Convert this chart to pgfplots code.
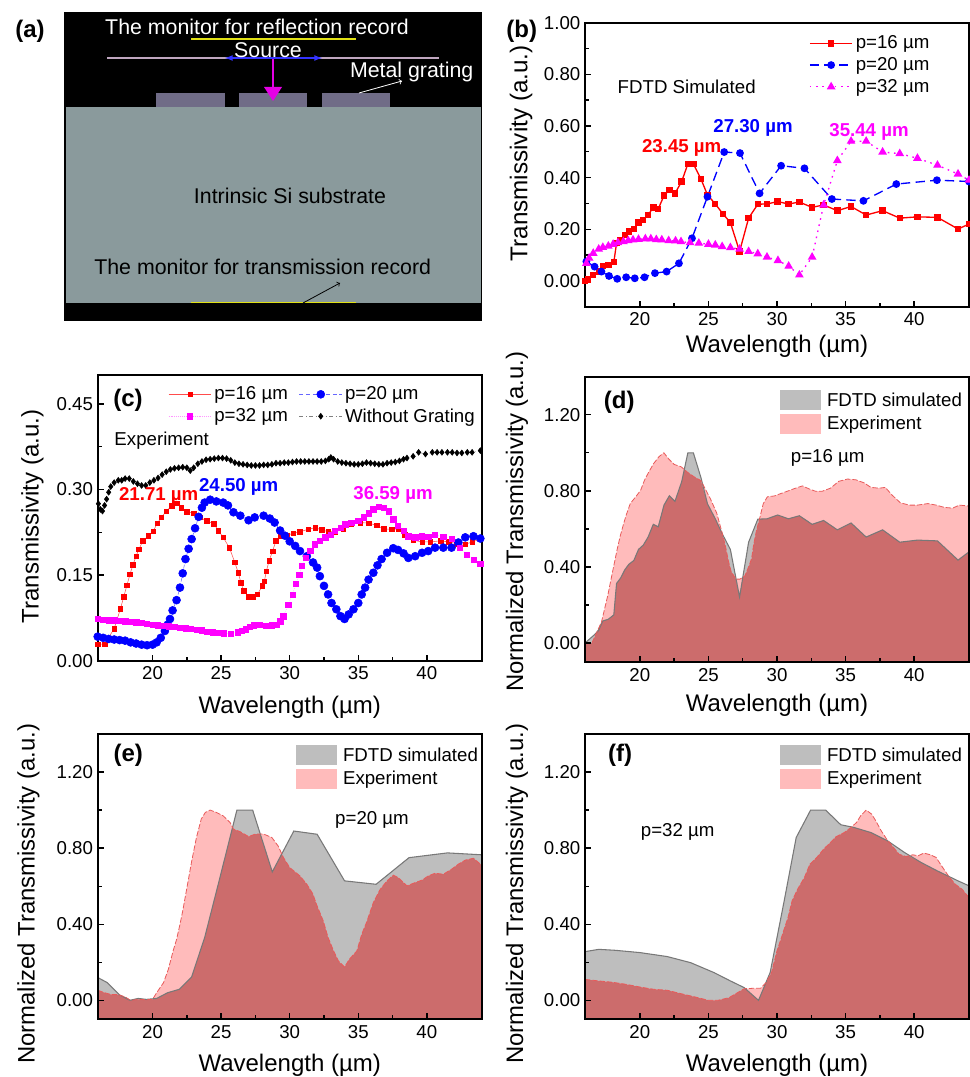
\documentclass[border=0pt]{standalone}
\usepackage{fontspec}
\setmainfont{Liberation Sans}
\usepackage{pgfplots}
\usepackage{pgfplotstable}
\pgfplotsset{compat=1.18}
\newcommand\fs[1]{\fontsize{#1}{#1}\selectfont}
\definecolor{gfill}{RGB}{190,190,190}
\definecolor{pfill}{RGB}{255,187,187}
\definecolor{ofill}{RGB}{204,108,108}
\definecolor{gline}{RGB}{120,120,120}
\definecolor{rline}{RGB}{232,90,90}
\definecolor{subst}{RGB}{138,154,156}
\definecolor{grat}{RGB}{112,108,135}
\definecolor{yel}{RGB}{225,225,20}
\definecolor{mag}{RGB}{255,0,255}
\definecolor{maglight}{RGB}{255,150,255}
\definecolor{red}{RGB}{255,0,0}
\definecolor{blue}{RGB}{0,0,255}

% ---------- panel (b)
\pgfplotstableread[row sep=\\]{x y\\ 16 0.0\\ 16.2 .006\\ 16.6 .023\\ 17 .036\\ 17.3 .058\\ 17.7 .062\\ 18.1 .072\\ 18.3 .146\\ 18.6 .159\\ 18.9 .178\\ 19.2 .191\\ 19.56 .2\\ 19.9 .226\\ 20.25 .236\\ 20.6 .255\\ 20.98 .285\\ 21.34 .279\\ 21.76 .33\\ 22.15 .352\\ 22.56 .339\\ 23.05 .385\\ 23.5 .453\\ 23.9 .453\\ 24.46 .394\\ 24.93 .333\\ 25.5 .298\\ 26.05 .26\\ 26.6 .226\\ 27.27 .114\\ 27.93 .243\\ 28.6 .297\\ 29.27 .298\\ 30.05 .307\\ 30.83 .298\\ 31.63 .305\\ 32.56 .285\\ 33.4 .294\\ 34.4 .272\\ 35.4 .288\\ 36.5 .255\\ 37.7 .272\\ 38.95 .243\\ 40.24 .248\\ 41.7 .246\\ 43.2 .201\\ 44 .22\\}\bA
\pgfplotstableread[row sep=\\]{x y\\ 16.1 .075\\ 16.7 .055\\ 17.2 .036\\ 17.75 .019\\ 18.35 .008\\ 19 .014\\ 19.63 .01\\ 20.34 .014\\ 21.1 .03\\ 21.95 .036\\ 22.85 .068\\ 23.8 .165\\ 24.93 .326\\ 26.15 .499\\ 27.3 .495\\ 28.73 .339\\ 30.3 .446\\ 32 .436\\ 34 .317\\ 36.3 .31\\ 38.7 .375\\ 41.66 .39\\ 44 .385\\}\bB
\pgfplotstableread[row sep=\\]{x y\\ 16.1 .068\\ 16.3 .088\\ 16.6 .107\\ 17 .123\\ 17.3 .13\\ 17.7 .135\\ 18.05 .142\\ 18.4 .148\\ 18.8 .152\\ 19.15 .156\\ 19.5 .159\\ 19.9 .161\\ 20.4 .163\\ 20.8 .163\\ 21.2 .16\\ 21.6 .159\\ 22.1 .156\\ 22.6 .155\\ 23 .152\\ 23.66 .148\\ 24.3 .146\\ 25 .142\\ 25.5 .139\\ 26 .133\\ 26.6 .129\\ 27.27 .123\\ 27.93 .114\\ 28.6 .105\\ 29.27 .092\\ 30.07 .079\\ 30.85 .057\\ 31.63 .023\\ 32.56 .092\\ 33.4 .294\\ 34.4 .466\\ 35.4 .541\\ 36.5 .541\\ 37.7 .499\\ 38.95 .493\\ 40.24 .475\\ 41.7 .448\\ 43.2 .414\\ 44 .39\\}\bC

% ---------- panel (c)
\pgfplotstableread[row sep=\\]{x y\\ 16 .029\\ 16.5 .029\\ 17.2 .056\\ 17.66 .091\\ 17.9 .112\\ 18.13 .132\\ 18.35 .151\\ 18.57 .168\\ 18.8 .183\\ 19 .195\\ 19.3 .21\\ 19.7 .219\\ 20.05 .227\\ 20.35 .241\\ 20.65 .251\\ 21 .262\\ 21.4 .271\\ 21.75 .276\\ 22.1 .268\\ 22.5 .261\\ 23 .258\\ 23.45 .251\\ 23.95 .245\\ 24.45 .24\\ 24.8 .228\\ 25.15 .216\\ 25.6 .198\\ 26 .172\\ 26.25 .154\\ 26.45 .136\\ 26.65 .122\\ 27 .112\\ 27.3 .112\\ 27.65 .116\\ 28 .131\\ 28.15 .139\\ 28.3 .157\\ 28.5 .175\\ 28.75 .192\\ 29 .21\\ 29.3 .219\\ 29.8 .22\\ 30.25 .223\\ 30.75 .226\\ 31.35 .23\\ 31.85 .233\\ 32.35 .229\\ 32.8 .226\\ 33.3 .226\\ 33.9 .23\\ 34.5 .239\\ 35.15 .242\\ 35.75 .241\\ 36.35 .237\\ 36.85 .231\\ 37.45 .23\\ 37.9 .231\\ 38.4 .221\\ 39 .211\\ 39.65 .208\\ 40.25 .208\\ 41 .21\\ 41.6 .208\\ 42.2 .205\\ 42.8 .204\\ 43.3 .208\\ 43.9 .213\\}\cA
\pgfplotstableread[row sep=\\]{x y\\ 16 .042\\ 16.4 .04\\ 16.8 .038\\ 17.2 .037\\ 17.6 .036\\ 18 .035\\ 18.4 .032\\ 18.8 .03\\ 19.2 .028\\ 19.6 .027\\ 20 .028\\ 20.3 .032\\ 20.6 .04\\ 20.9 .052\\ 21.1 .063\\ 21.27 .073\\ 21.46 .088\\ 21.75 .106\\ 22 .128\\ 22.2 .153\\ 22.4 .178\\ 22.63 .196\\ 22.85 .213\\ 23.1 .232\\ 23.36 .252\\ 23.6 .268\\ 23.8 .277\\ 24.2 .282\\ 24.65 .279\\ 25.15 .277\\ 25.5 .272\\ 25.9 .26\\ 26.4 .254\\ 27 .246\\ 27.45 .251\\ 28.1 .254\\ 28.55 .249\\ 28.9 .242\\ 29.3 .228\\ 29.65 .219\\ 30 .209\\ 30.4 .201\\ 30.75 .192\\ 31.25 .183\\ 31.7 .172\\ 32 .163\\ 32.2 .148\\ 32.5 .131\\ 32.8 .116\\ 33.05 .101\\ 33.4 .09\\ 33.7 .078\\ 34 .073\\ 34.3 .081\\ 34.65 .09\\ 35 .101\\ 35.25 .116\\ 35.5 .128\\ 35.75 .142\\ 36.1 .154\\ 36.4 .167\\ 36.7 .178\\ 37.1 .189\\ 37.55 .197\\ 37.9 .194\\ 38.3 .188\\ 38.65 .18\\ 39.15 .183\\ 39.65 .189\\ 40.1 .192\\ 40.6 .198\\ 41.2 .198\\ 41.8 .198\\ 42.3 .207\\ 42.8 .216\\ 43.4 .218\\ 43.9 .214\\}\cB
\pgfplotstableread[row sep=\\]{x y\\ 16 .073\\ 16.4 .072\\ 16.8 .071\\ 17.2 .071\\ 17.6 .07\\ 18 .069\\ 18.4 .068\\ 18.8 .067\\ 19.2 .066\\ 19.6 .065\\ 20 .063\\ 20.4 .062\\ 20.8 .061\\ 21.2 .06\\ 21.6 .059\\ 22 .058\\ 22.4 .057\\ 22.8 .056\\ 23.2 .054\\ 23.6 .053\\ 24 .051\\ 24.4 .05\\ 24.8 .049\\ 25.2 .048\\ 25.7 .047\\ 26.2 .05\\ 26.5 .052\\ 26.8 .055\\ 27.1 .059\\ 27.4 .062\\ 27.8 .063\\ 28.3 .061\\ 28.7 .062\\ 29.05 .063\\ 29.3 .069\\ 29.54 .078\\ 29.9 .098\\ 30.2 .116\\ 30.45 .135\\ 30.7 .151\\ 30.9 .166\\ 31.15 .18\\ 31.5 .192\\ 31.85 .204\\ 32.2 .21\\ 32.6 .216\\ 33 .221\\ 33.3 .227\\ 33.7 .233\\ 34.05 .239\\ 34.5 .242\\ 35 .245\\ 35.4 .251\\ 35.75 .258\\ 36.1 .265\\ 36.5 .27\\ 36.85 .268\\ 37.2 .262\\ 37.55 .248\\ 37.9 .236\\ 38.3 .227\\ 38.65 .218\\ 39.15 .216\\ 39.65 .218\\ 40.1 .217\\ 40.6 .22\\ 41.2 .217\\ 41.8 .213\\ 42.4 .198\\ 42.9 .186\\ 43.4 .177\\ 43.9 .17\\}\cC
\pgfplotstableread[row sep=\\]{x y\\ 16.05 .275\\ 16.2 .265\\ 16.35 .262\\ 16.5 .272\\ 16.65 .283\\ 16.8 .295\\ 16.95 .305\\ 17.2 .312\\ 17.5 .316\\ 17.75 .316\\ 18 .319\\ 18.3 .319\\ 18.6 .314\\ 18.9 .31\\ 19.2 .307\\ 19.5 .307\\ 19.8 .312\\ 20.1 .316\\ 20.4 .32\\ 20.7 .326\\ 21 .331\\ 21.3 .335\\ 21.6 .337\\ 21.9 .338\\ 22.2 .339\\ 22.5 .338\\ 22.75 .333\\ 23 .338\\ 23.3 .345\\ 23.6 .349\\ 23.9 .352\\ 24.2 .353\\ 24.5 .354\\ 24.8 .355\\ 25.1 .355\\ 25.4 .354\\ 25.7 .351\\ 26 .347\\ 26.3 .345\\ 26.6 .344\\ 26.9 .343\\ 27.2 .342\\ 27.5 .342\\ 27.8 .342\\ 28.1 .343\\ 28.4 .343\\ 28.7 .344\\ 29 .346\\ 29.3 .346\\ 29.6 .347\\ 29.9 .347\\ 30.2 .348\\ 30.5 .349\\ 30.8 .349\\ 31.1 .349\\ 31.4 .349\\ 31.7 .349\\ 32 .349\\ 32.3 .349\\ 32.6 .35\\ 32.85 .353\\ 33 .356\\ 33.2 .353\\ 33.5 .349\\ 33.8 .347\\ 34.1 .346\\ 34.4 .345\\ 34.7 .344\\ 35 .344\\ 35.3 .345\\ 35.6 .347\\ 35.9 .346\\ 36.2 .345\\ 36.5 .344\\ 36.8 .344\\ 37.1 .346\\ 37.4 .347\\ 37.7 .348\\ 38 .35\\ 38.3 .353\\ 38.55 .355\\ 39 .358\\ 39.4 .365\\ 39.9 .362\\ 40.4 .365\\ 40.75 .365\\ 41.1 .365\\ 41.5 .365\\ 41.85 .365\\ 42.2 .364\\ 42.55 .364\\ 42.95 .365\\ 43.3 .365\\ 43.9 .368\\}\cD

% ---------- panel (d)
\pgfplotstableread[row sep=\\]{x y\\ 16 0\\ 16.6 .038\\ 17 .067\\ 17.3 .116\\ 17.7 .125\\ 18.1 .148\\ 18.3 .313\\ 18.6 .342\\ 18.9 .385\\ 19.2 .414\\ 19.56 .434\\ 19.9 .492\\ 20.25 .515\\ 20.6 .557\\ 20.98 .624\\ 21.34 .611\\ 21.76 .725\\ 22.15 .774\\ 22.56 .745\\ 23.05 .848\\ 23.5 1\\ 23.9 1\\ 24.46 .868\\ 24.93 .732\\ 25.5 .653\\ 26.05 .568\\ 26.6 .492\\ 27.27 .242\\ 27.93 .53\\ 28.6 .651\\ 29.27 .653\\ 30.05 .673\\ 30.83 .653\\ 31.63 .669\\ 32.56 .624\\ 33.4 .644\\ 34.4 .595\\ 35.4 .631\\ 36.5 .557\\ 37.7 .595\\ 38.95 .53\\ 40.24 .541\\ 41.7 .537\\ 43.2 .436\\ 44 .479\\}\dS
\pgfplotstableread[row sep=\\]{x y\\ 16 0\\ 16.5 0\\ 17.2 .11\\ 17.66 .25\\ 17.9 .336\\ 18.13 .417\\ 18.35 .494\\ 18.57 .563\\ 18.8 .623\\ 19 .672\\ 19.3 .733\\ 19.7 .769\\ 20.05 .802\\ 20.35 .858\\ 20.65 .899\\ 21 .943\\ 21.4 .98\\ 21.75 1\\ 22.1 .968\\ 22.5 .939\\ 23 .927\\ 23.45 .899\\ 23.95 .874\\ 24.45 .854\\ 24.8 .806\\ 25.15 .757\\ 25.6 .684\\ 26 .579\\ 26.25 .506\\ 26.45 .433\\ 26.65 .377\\ 27 .336\\ 27.3 .336\\ 27.65 .352\\ 28 .413\\ 28.15 .445\\ 28.3 .518\\ 28.5 .591\\ 28.75 .66\\ 29 .733\\ 29.3 .769\\ 29.8 .773\\ 30.25 .785\\ 30.75 .798\\ 31.35 .814\\ 31.85 .826\\ 32.35 .81\\ 32.8 .798\\ 33.3 .798\\ 33.9 .814\\ 34.5 .85\\ 35.15 .862\\ 35.75 .858\\ 36.35 .842\\ 36.85 .818\\ 37.45 .814\\ 37.9 .818\\ 38.4 .777\\ 39 .737\\ 39.65 .725\\ 40.25 .725\\ 41 .733\\ 41.6 .725\\ 42.2 .713\\ 42.8 .709\\ 43.3 .725\\ 44 .72\\}\dE
\pgfplotstableread[row sep=\\]{x y\\ 16 0\\ 16.5 0\\ 17.2 .11\\ 17.3 .116\\ 17.7 .125\\ 18.1 .148\\ 18.3 .313\\ 18.6 .342\\ 18.9 .385\\ 19.2 .414\\ 19.56 .434\\ 19.9 .492\\ 20.25 .515\\ 20.6 .557\\ 20.98 .624\\ 21.34 .611\\ 21.76 .725\\ 22.15 .774\\ 22.56 .745\\ 23.05 .848\\ 23.25 .913\\ 23.45 .899\\ 23.95 .874\\ 24.45 .854\\ 24.93 .732\\ 25.5 .653\\ 26 .575\\ 26.25 .506\\ 26.45 .433\\ 26.65 .377\\ 27 .336\\ 27.27 .242\\ 27.5 .344\\ 27.65 .352\\ 28 .413\\ 28.15 .445\\ 28.3 .518\\ 28.5 .591\\ 28.72 .652\\ 29.27 .653\\ 30.05 .673\\ 30.83 .653\\ 31.63 .669\\ 32.56 .624\\ 33.4 .644\\ 34.4 .595\\ 35.4 .631\\ 36.5 .557\\ 37.7 .595\\ 38.95 .53\\ 40.24 .541\\ 41.7 .537\\ 43.2 .436\\ 44 .479\\}\dO

% ---------- panel (e)
\pgfplotstableread[row sep=\\]{x y\\ 16 .12\\ 16.7 .093\\ 17.6 .028\\ 18.35 0\\ 18.95 .01\\ 19.55 .005\\ 20.3 .01\\ 21.1 .04\\ 21.95 .058\\ 22.85 .123\\ 23.8 .33\\ 24.93 .65\\ 26.15 1\\ 27.3 1\\ 28.73 .675\\ 30.3 .89\\ 32 .873\\ 34 .628\\ 36.3 .61\\ 38.7 .75\\ 41.5 .775\\ 44 .765\\}\eS
\pgfplotstableread[row sep=\\]{x y\\ 16 .053\\ 16.5 .04\\ 17 .03\\ 17.5 .03\\ 18 .018\\ 18.4 0\\ 19 .005\\ 19.5 .003\\ 20 .005\\ 20.3 .04\\ 20.8 .093\\ 21.15 .163\\ 21.5 .26\\ 21.75 .32\\ 22 .4\\ 22.2 .47\\ 22.5 .59\\ 22.85 .73\\ 23.2 .856\\ 23.55 .953\\ 23.85 .988\\ 24.2 1\\ 24.65 .988\\ 25.15 .97\\ 25.65 .935\\ 25.9 .9\\ 26.4 .886\\ 27 .861\\ 27.5 .874\\ 28.1 .874\\ 28.7 .856\\ 29.15 .812\\ 29.55 .75\\ 30 .698\\ 30.75 .654\\ 31.25 .61\\ 31.7 .558\\ 31.95 .505\\ 32.45 .417\\ 32.8 .33\\ 33.2 .26\\ 33.55 .207\\ 34 .175\\ 34.35 .216\\ 34.9 .26\\ 35.25 .347\\ 35.6 .409\\ 36.1 .514\\ 36.6 .584\\ 37.1 .628\\ 37.55 .658\\ 37.9 .646\\ 38.55 .602\\ 39.15 .619\\ 39.65 .632\\ 40.1 .654\\ 40.6 .668\\ 41.2 .663\\ 41.8 .689\\ 42.3 .716\\ 42.8 .737\\ 43.4 .747\\ 44 .71\\}\eE
\pgfplotstableread[row sep=\\]{x y\\ 16 .053\\ 16.5 .04\\ 17 .03\\ 17.5 .03\\ 18 .018\\ 18.4 0\\ 19 .005\\ 19.5 .003\\ 20 .005\\ 20.3 .01\\ 21.1 .04\\ 21.95 .058\\ 22.85 .123\\ 23.8 .33\\ 24.93 .65\\ 25.85 .914\\ 25.9 .9\\ 26.4 .886\\ 27 .861\\ 27.5 .874\\ 27.85 .874\\ 28.73 .675\\ 29.42 .77\\ 29.55 .75\\ 30 .698\\ 30.75 .654\\ 31.25 .61\\ 31.7 .558\\ 31.95 .505\\ 32.45 .417\\ 32.8 .33\\ 33.2 .26\\ 33.55 .207\\ 34 .175\\ 34.35 .216\\ 34.9 .26\\ 35.25 .347\\ 35.6 .409\\ 36.1 .514\\ 36.6 .584\\ 37.1 .628\\ 37.55 .658\\ 37.9 .646\\ 38.55 .602\\ 39.15 .619\\ 39.65 .632\\ 40.1 .654\\ 40.6 .668\\ 41.2 .663\\ 41.8 .689\\ 42.3 .716\\ 42.8 .737\\ 43.4 .747\\ 44 .71\\}\eO

% ---------- panel (f)
\pgfplotstableread[row sep=\\]{x y\\ 16 .256\\ 17 .268\\ 18.2 .263\\ 20 .251\\ 22 .23\\ 23.7 .198\\ 25.4 .146\\ 26.6 .102\\ 27.6 .067\\ 28.65 0\\ 29.5 .146\\ 30.5 .514\\ 31.4 .856\\ 32.45 1\\ 33.55 1\\ 34.65 .923\\ 35.6 .909\\ 36.85 .882\\ 38.05 .839\\ 39.3 .777\\ 40.5 .725\\ 41.7 .68\\ 43.2 .628\\ 44 .602\\}\fS
\pgfplotstableread[row sep=\\]{x y\\ 16 .11\\ 17 .102\\ 18 .095\\ 19 .084\\ 20 .07\\ 21 .058\\ 22 .053\\ 23 .035\\ 24 .018\\ 25 0\\ 25.7 0\\ 26.5 .014\\ 27 .035\\ 27.6 .061\\ 28.2 .063\\ 28.8 .063\\ 29.2 .093\\ 29.6 .146\\ 30 .26\\ 30.4 .347\\ 30.8 .435\\ 31.1 .523\\ 31.5 .584\\ 32 .646\\ 32.4 .716\\ 32.9 .751\\ 33.4 .795\\ 33.9 .83\\ 34.3 .86\\ 34.9 .882\\ 35.4 .909\\ 35.8 .935\\ 36.1 .97\\ 36.5 1\\ 36.9 .979\\ 37.2 .944\\ 37.6 .891\\ 38 .847\\ 38.4 .812\\ 38.9 .768\\ 39.4 .756\\ 39.9 .765\\ 40.3 .76\\ 40.7 .774\\ 41.2 .765\\ 41.6 .751\\ 42 .707\\ 42.5 .654\\ 43 .61\\ 43.5 .584\\ 44 .54\\}\fE
\pgfplotstableread[row sep=\\]{x y\\ 16 .11\\ 17 .102\\ 18 .095\\ 19 .084\\ 20 .07\\ 21 .058\\ 22 .053\\ 23 .035\\ 24 .018\\ 25 0\\ 25.7 0\\ 26.5 .014\\ 27 .035\\ 27.6 .061\\ 27.7 .062\\ 28.65 0\\ 29.2 .093\\ 29.6 .146\\ 30 .26\\ 30.4 .347\\ 30.8 .435\\ 31.1 .523\\ 31.5 .584\\ 32 .646\\ 32.4 .716\\ 32.9 .751\\ 33.4 .795\\ 33.9 .83\\ 34.3 .86\\ 34.9 .882\\ 35.4 .909\\ 35.55 .91\\ 36.85 .882\\ 38.05 .839\\ 38.2 .83\\ 38.4 .812\\ 38.9 .768\\ 39.4 .756\\ 39.6 .76\\ 40.5 .725\\ 41.7 .68\\ 42.5 .653\\ 43 .61\\ 43.5 .584\\ 44 .54\\}\fO

\pgfplotsset{
 panel/.style={
  scale only axis, width=288pt, height=214pt,
  anchor=north west,
  xmin=16, xmax=44,
  xtick={20,25,30,35,40}, minor x tick num=1,
  tick align=inside, axis line style={line width=1.4pt},
  major tick style={black,line width=1pt}, minor tick style={black,line width=1pt},
  major tick length=4.5pt, minor tick length=3pt,
  xtick pos=bottom, ytick pos=left,
  /pgf/number format/assume math mode=true,
  tick label style={font=\fs{14}},
  xticklabel style={yshift=-1pt},
  yticklabel style={/pgf/number format/fixed,/pgf/number format/fixed zerofill,/pgf/number format/precision=2},
  xlabel={Wavelength (µm)},
  axis on top,
 },
 xl/.style={x label style={font=\fs{18},at={(axis description cs:0.5,0)},anchor=center,yshift=-#1*0.75pt}},
 yl/.style 2 args={y label style={font=\fs{#2},at={(axis description cs:0,#1)},anchor=center,yshift=51pt}},
 normpanel/.style={
  panel, ymin=-0.1, ymax=1.4, ytick={0,0.4,0.8,1.2}, minor y tick num=1,
  ylabel={Normalized Transmissivity (a.u.)},
  legend cell align=left,
  legend style={draw=none,fill=none,inner sep=0pt,outer sep=0pt,font=\fs{14},anchor=north west,row sep=2pt,
    /tikz/every odd column/.append style={column sep=2.25pt}},
  legend image code/.code={\path[##1] (0pt,-7.5pt) rectangle (31pt,7.5pt);},
 },
 sim/.style={fill=gfill,draw=none},
 expt/.style={fill=pfill,draw=none},
 over/.style={fill=ofill,draw=none,forget plot},
 simline/.style={gline,line width=0.8pt,forget plot},
 expline/.style={rline,line width=0.6pt,dash pattern=on 4pt off 1.5pt,forget plot},
 linekey/.style={legend image code/.code={\draw[mark repeat=2,mark phase=2,##1] plot coordinates {(0pt,0pt) (16pt,0pt) (32pt,0pt)};}},
}
\newcommand\close{-- (axis cs:44,-0.1) -- (axis cs:16,-0.1) -- cycle}

\begin{document}
\begin{tikzpicture}
\useasboundingbox (0pt,0pt) rectangle (727.5pt,-807.75pt);

% ===== (b)
\begin{axis}[panel, at={(438.75pt,-17.025pt)}, height=213pt, ymin=-0.1, ymax=1.0,
  ytick={0,0.2,0.4,0.6,0.8,1.0}, minor y tick num=1,
  ylabel={Transmissivity (a.u.)}, xl=40, yl={0.54}{18.2},
  y label style={yshift=-3pt},
  legend cell align=left, linekey,
  legend style={draw=none,fill=none,inner sep=0pt,font=\fs{14},anchor=north west,row sep=1pt,at={(axis description cs:0.583,0.964)}}]
\addplot[red,line width=1pt,mark=square*,mark size=1.9pt,mark options={solid}] table {\bA};
\addlegendentry{p=16 µm}
\addplot[blue,line width=1pt,dash pattern=on 7pt off 4pt,mark=*,mark size=2.4pt,mark options={solid}] table {\bB};
\addlegendentry{p=20 µm}
\addplot[mag,line width=1pt,dash pattern=on 1.2pt off 3.5pt,mark=triangle*,mark size=2.8pt,mark options={solid}] table {\bC};
\addlegendentry{p=32 µm}
\end{axis}

% ===== (c)
\begin{axis}[panel, at={(73.275pt,-281.475pt)}, ymin=0, ymax=0.5,
  ytick={0,0.15,0.30,0.45}, minor y tick num=1,
  ylabel={Transmissivity (a.u.)}, xl=47, yl={0.505}{18},
  y label style={yshift=-2pt},
  legend cell align=left, linekey, legend columns=2,
  legend style={draw=none,fill=none,inner sep=0pt,font=\fs{14},anchor=north west,row sep=1pt,
    at={(axis description cs:0.1835,0.97)},/tikz/every odd column/.append style={column sep=0pt},/tikz/every even column/.append style={column sep=6.5pt}}]
\addplot[red!70,line width=0.4pt,mark=square*,mark size=1.7pt,mark options={red,solid}] table {\cA};
\addlegendentry{p=16 µm}
\addplot[blue!60,line width=0.4pt,densely dashed,mark=*,mark size=3pt,mark options={blue,solid}] table {\cB};
\addlegendentry{p=20 µm}
\addplot[maglight,line width=0.4pt,densely dotted,mark=square*,mark size=2pt,mark options={mag,solid}] table {\cC};
\addlegendentry{p=32 µm}
\addplot[gray,line width=0.4pt,dash dot,mark=diamond*,mark size=2.2pt,mark options={black,solid}] table {\cD};
\addlegendentry{Without Grating}
\end{axis}

% ===== (d)
\begin{axis}[normpanel, at={(438.75pt,-282.525pt)}, xl=43, yl={0.492}{17.9},
  legend style={at={(axis description cs:0.508,0.9535)}}]
\addplot[sim] table {\dS} \close; \addlegendentry{FDTD simulated}
\addplot[expt] table {\dE} \close; \addlegendentry{Experiment}
\addplot[over] table {\dO} \close;
\addplot[simline] table {\dS};
\addplot[expline] table {\dE};
\end{axis}

% ===== (e)
\begin{axis}[normpanel, at={(73.275pt,-550.5pt)}, xl=46, yl={0.44}{17.9},
  y label style={yshift=1pt},
  legend style={at={(axis description cs:0.5166,0.9614)}}]
\addplot[sim] table {\eS} \close; \addlegendentry{FDTD simulated}
\addplot[expt] table {\eE} \close; \addlegendentry{Experiment}
\addplot[over] table {\eO} \close;
\addplot[simline] table {\eS};
\addplot[expline] table {\eE};
\end{axis}

% ===== (f)
\begin{axis}[normpanel, at={(438.75pt,-550.5pt)}, xl=46, yl={0.44}{17.9},
  legend style={at={(axis description cs:0.508,0.9614)}}]
\addplot[sim] table {\fS} \close; \addlegendentry{FDTD simulated}
\addplot[expt] table {\fE} \close; \addlegendentry{Experiment}
\addplot[over] table {\fO} \close;
\addplot[simline] table {\fS};
\addplot[expline] table {\fE};
\end{axis}

\begin{scope}[x=0.75pt,y=-0.75pt]
% ===== (a) schematic
\fill[black] (64,12) rectangle (482,321);
\fill[subst] (66,107) rectangle (481,303);
\fill[grat] (156,93) rectangle (225,107);
\fill[grat] (239,93) rectangle (307,107);
\fill[grat] (322,93) rectangle (390,107);
\draw[yel,line width=1.2pt] (191,39) -- (356,39);
\draw[yel,line width=1.2pt] (191,302.5) -- (356,302.5);
\draw[gray!60!violet!50,line width=1pt] (107,58) -- (439,58);
\draw[blue!80!white,line width=1pt,-latex] (273,58) -- (225,58);
\draw[blue!80!white,line width=1pt,-latex] (273,58) -- (322,58);
\draw[mag!80!violet,line width=1pt] (273,59) -- (273,90);
\fill[mag!80!violet] (264,87) -- (282,87) -- (273,101) -- cycle;
\draw[white,line width=0.6pt,->] (359,93) -- (402,81);
\draw[black,line width=0.6pt,->] (303,303) -- (340,283);
\node[white,font=\fs{16}] at (257,26.7) {The monitor for reflection record};
\node[white,font=\fs{16}] at (268,50) {Source};
\node[white,font=\fs{16}] at (411.7,72.3) {Metal grating};
\node[black,font=\fs{16}] at (290,196) {Intrinsic Si substrate};
\node[black,font=\fs{16}] at (262.7,266.7) {The monitor for transmission record};
\node[font=\bfseries\fs{18}] at (30,31.7) {(a)};

\node[font=\fs{14}] at (686.7,86.7) {FDTD Simulated};
\node[font=\bfseries\fs{18}] at (521.7,31.7) {(b)};
\node[red,font=\bfseries\fs{14}] at (681.7,148) {23.45 µm};
\node[blue,font=\bfseries\fs{14}] at (753,128) {27.30 µm};
\node[mag,font=\bfseries\fs{14}] at (869,132) {35.44 µm};

\node[font=\bfseries\fs{18}] at (128,400.7) {(c)};
\node[font=\fs{14}] at (161.7,441) {Experiment};
\node[red,font=\bfseries\fs{14}] at (158.7,495.7) {21.71 µm};
\node[blue,font=\bfseries\fs{14}] at (238.7,486.7) {24.50 µm};
\node[mag,font=\bfseries\fs{14}] at (393,495) {36.59 µm};

\node[font=\bfseries\fs{18}] at (619.3,402) {(d)};
\node[font=\fs{14}] at (827.7,457.7) {p=16 µm};
\node[font=\bfseries\fs{18}] at (128.3,755) {(e)};
\node[font=\fs{14}] at (372,820) {p=20 µm};
\node[font=\bfseries\fs{18}] at (620,755) {(f)};
\node[font=\fs{14}] at (677.7,831.7) {p=32 µm};
\end{scope}
\end{tikzpicture}
\end{document}
